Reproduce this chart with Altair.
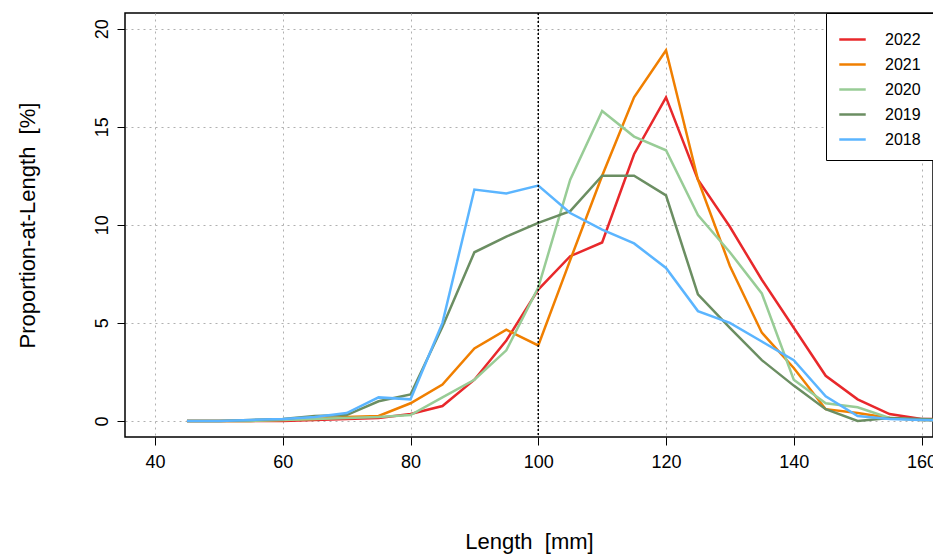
import altair as alt
import pandas as pd

lengths = list(range(45, 170, 5))

y2022 = [0, 0, 0, 0, 0.05, 0.1, 0.15, 0.35, 0.76, 2.1, 4.1, 6.7, 8.4, 9.1, 13.6, 16.5,
         12.3, 9.9, 7.2, 4.75, 2.3, 1.1, 0.35, 0.1, 0.1]
y2021 = [0, 0, 0, 0.05, 0.1, 0.2, 0.25, 0.9, 1.85, 3.7, 4.65, 3.85, 8.2, 12.5, 16.5, 18.9,
         12.3, 7.9, 4.5, 2.7, 0.6, 0.4, 0.15, 0.05, 0]
y2020 = [0, 0, 0, 0.05, 0.1, 0.15, 0.2, 0.3, 1.2, 2.1, 3.6, 6.8, 12.3, 15.8, 14.5, 13.8,
         10.5, 8.6, 6.5, 2.1, 0.9, 0.7, 0.15, 0.05, 0.05]
y2019 = [0, 0, 0.05, 0.1, 0.25, 0.3, 1.0, 1.35, 4.8, 8.6, 9.4, 10.1, 10.7, 12.5, 12.5, 11.5,
         6.45, 4.75, 3.1, 1.8, 0.6, 0.0, 0.15, 0.1, 0.05]
y2018 = [0, 0, 0.05, 0.1, 0.2, 0.4, 1.2, 1.1, 5.0, 11.8, 11.6, 12.0, 10.6, 9.75, 9.05, 7.8,
         5.6, 5.0, 4.05, 3.1, 1.25, 0.25, 0.1, 0.05, 0]

years = ["2022", "2021", "2020", "2019", "2018"]
colors = ["#E8282B", "#F07F00", "#98CC96", "#6B8E62", "#5BB5FF"]
series = [y2022, y2021, y2020, y2019, y2018]

rows = []
for yr, vals in zip(years, series):
    for L, v in zip(lengths, vals):
        rows.append({"Length": L, "Prop": v, "Year": yr})
df = pd.DataFrame(rows)

FONT = "Liberation Sans"
xs = alt.Scale(domain=[35.3, 161.8], nice=False, zero=False)
ys = alt.Scale(domain=[-0.82, 20.8], nice=False, zero=False)

lines = alt.Chart(df).mark_line(strokeWidth=2.5, clip=True).encode(
    x=alt.X("Length:Q", scale=xs, title="Length\u00a0\u00a0[mm]",
            axis=alt.Axis(values=list(range(40, 180, 20)), grid=True, gridDash=[2, 4],
                          gridColor="#b0b0b0", domain=False, tickColor="black",
                          tickSize=8, labelFontSize=18, labelColor="black",
                          labelPadding=8, titleFontSize=22, titleFontWeight="normal",
                          titleColor="black", titlePadding=60)),
    y=alt.Y("Prop:Q", scale=ys, title="Proportion-at-Length\u00a0\u00a0[%]",
            axis=alt.Axis(values=[0, 5, 10, 15, 20], grid=True, gridDash=[2, 4],
                          gridColor="#b0b0b0", domain=False, tickColor="black",
                          tickSize=8, labelFontSize=18, labelColor="black",
                          labelAngle=-90, labelAlign="center", labelBaseline="bottom",
                          labelPadding=6, titleFontSize=22, titleFontWeight="normal",
                          titleColor="black", titlePadding=54)),
    color=alt.Color("Year:N", sort=years,
                    scale=alt.Scale(domain=years, range=colors),
                    legend=alt.Legend(title=None, orient="none", legendX=701, legendY=0,
                                      symbolType="stroke", symbolStrokeWidth=2.5,
                                      symbolSize=700, labelFontSize=16, labelFont=FONT,
                                      labelColor="black", strokeColor="black",
                                      padding=12, rowPadding=2, fillColor="white",
                                      labelOffset=18)),
)

vline = alt.Chart(pd.DataFrame({"x": [100]})).mark_rule(
    color="black", strokeDash=[2, 2], strokeWidth=1.5).encode(x=alt.X("x:Q", scale=xs))

chart = (lines + vline).properties(
    width=808, height=424,
    autosize=alt.AutoSizeParams(type="none"),
    padding={"left": 117, "top": 5, "right": 0, "bottom": 120},
).configure(font=FONT).configure_view(stroke="black", strokeWidth=1.5)

chart.save("out.html", embed_options={"renderer": "svg", "actions": False})
